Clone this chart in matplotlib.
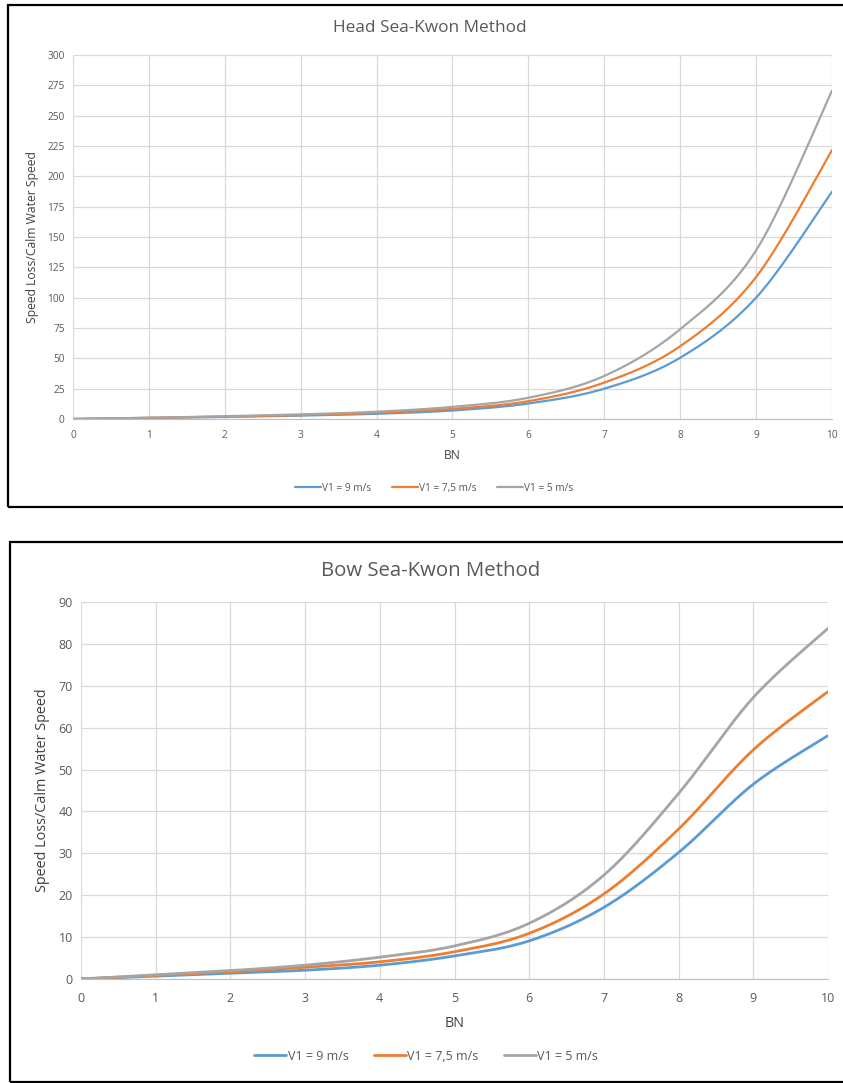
import numpy as np
import matplotlib
matplotlib.use("Agg")
import matplotlib.pyplot as plt
from matplotlib.patches import Rectangle

plt.rcParams['font.family'] = ['Open Sans', 'DejaVu Sans']

# wind force (Beaufort number)
BN = [0, 1, 2, 3, 4, 5, 6, 7, 8, 9, 10]
SERIES = ["V1 = 9 m/s", "V1 = 7,5 m/s", "V1 = 5 m/s"]
COLORS = ["#5B9BD5", "#ED7D31", "#A5A5A5"]

# head sea, speed loss / calm water speed
head_v9 = [0, 0.8, 1.7, 2.8, 4.3, 7.0, 12.8, 25.0, 50.5, 100.0, 187.3]
head_v75 = [0, 0.9, 2.0, 3.2, 5.0, 8.3, 14.7, 30.0, 60.0, 117.0, 221.7]
head_v5 = [0, 1.0, 2.3, 3.8, 6.0, 10.0, 17.5, 35.5, 74.0, 139.0, 270.6]

# bow sea
bow_v9 = [0, 0.7, 1.4, 2.1, 3.3, 5.5, 9.1, 17.1, 30.2, 46.5, 58.1]
bow_v75 = [0, 0.85, 1.7, 2.8, 4.1, 6.5, 10.9, 20.3, 35.8, 54.7, 68.6]
bow_v5 = [0, 1.0, 2.0, 3.3, 5.2, 7.9, 13.3, 24.8, 44.3, 67.2, 83.7]


def smooth(x, y, n=40):
    # spreadsheet-style smoothed line: cubic bezier segments, catmull-rom handles
    x = np.asarray(x, float); y = np.asarray(y, float)
    px = np.concatenate([[x[0]], x, [x[-1]]]); py = np.concatenate([[y[0]], y, [y[-1]]])
    t = np.linspace(0, 1, n)[:, None]
    out = []
    for i in range(len(x) - 1):
        p0 = np.array([px[i + 1], py[i + 1]]); p3 = np.array([px[i + 2], py[i + 2]])
        p1 = p0 + (p3 - np.array([px[i], py[i]])) / 6.0
        p2 = p3 - (np.array([px[i + 3], py[i + 3]]) - p0) / 6.0
        seg = (1 - t) ** 3 * p0 + 3 * (1 - t) ** 2 * t * p1 + 3 * (1 - t) * t ** 2 * p2 + t ** 3 * p3
        out.append(seg if i == 0 else seg[1:])
    pts = np.vstack(out)
    return pts[:, 0], pts[:, 1]


def panel(fig, rect, title, title_xy, ys, ymax, ystep, fs_tick, fs_lab, fs_title, lw,
          leg_x, leg_y, xlab_pad, tick_pad):
    ax = fig.add_axes(rect)
    for y, c, lab in zip(ys, COLORS, SERIES):
        sx, sy = smooth(BN, y)
        ax.plot(sx, sy, color=c, lw=lw, label=lab, solid_capstyle="round")
    ax.set_xlim(0, 10); ax.set_ylim(0, ymax)
    ax.set_xticks(BN); ax.set_yticks(np.arange(0, ymax + 1, ystep))
    ax.grid(True, color="#D9D9D9", lw=0.9)
    ax.set_axisbelow(True)
    for s in ("top", "right", "left"):
        ax.spines[s].set_visible(False)
    ax.spines["bottom"].set_color("#BFBFBF")
    ax.tick_params(length=0, labelsize=fs_tick, colors="#595959")
    ax.tick_params(axis="x", pad=tick_pad)
    ax.tick_params(axis="y", pad=6)
    ax.set_xlabel("BN", fontsize=fs_lab, color="#404040", labelpad=xlab_pad)
    ax.set_ylabel("Speed Loss/Calm Water Speed", fontsize=fs_lab, color="#404040", labelpad=6)
    fig.text(title_xy[0] / W, 1 - title_xy[1] / H, title, fontsize=fs_title, color="#595959",
             ha="center", va="center")
    ax.legend(loc="center", bbox_to_anchor=(leg_x, leg_y), ncol=3, frameon=False,
              fontsize=fs_tick, handlelength=2.6, handletextpad=0.1, columnspacing=2.0,
              labelcolor="#595959")
    return ax


W, H = 843, 1083
fig = plt.figure(figsize=(W / 100, H / 100), dpi=100)

# panel frames
fig.add_artist(Rectangle((8 / W, 1 - 507 / H), 840 / W, 502 / H, transform=fig.transFigure,
                         fill=False, edgecolor="black", lw=1.6))
fig.add_artist(Rectangle((10 / W, 1 - 1082 / H), 840 / W, 540 / H, transform=fig.transFigure,
                         fill=False, edgecolor="black", lw=1.6))

panel(fig, [73 / W, 1 - 419 / H, 759 / W, 364 / H], "Head Sea-Kwon Method", (430, 28),
      [head_v9, head_v75, head_v5], 300, 25, 7.3, 8.7, 12.4, 1.6, 0.476, -0.19, 6, 8)
panel(fig, [81 / W, 1 - 979 / H, 747 / W, 377 / H], "Bow Sea-Kwon Method", (431, 571),
      [bow_v9, bow_v75, bow_v5], 90, 10, 9.0, 10.4, 14.7, 2.0, 0.462, -0.205, 8, 9)

fig.savefig("out.png", dpi=100)
